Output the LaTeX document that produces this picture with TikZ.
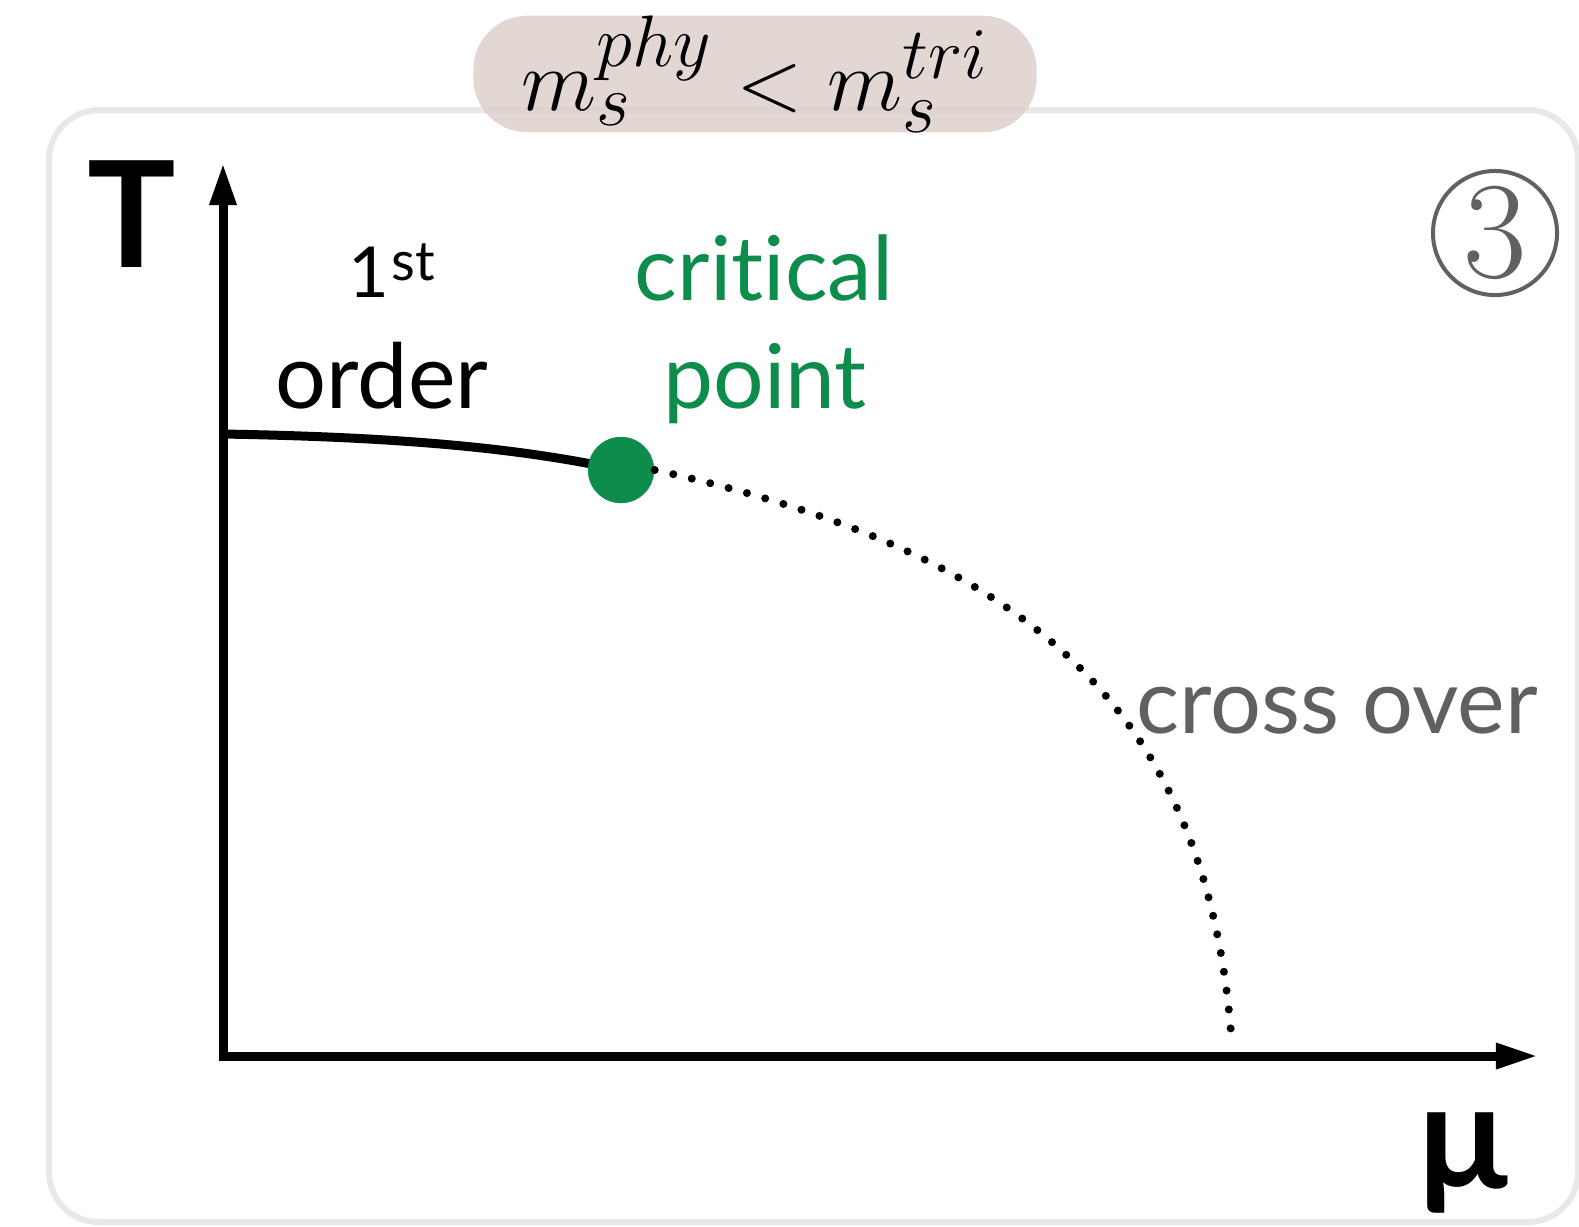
\documentclass[tikz,border=0pt]{standalone}
\usepackage{fontspec}
\setsansfont{Lato}[Ligatures=NoCommon]
\usepackage{amsmath}
\usetikzlibrary{arrows.meta, positioning}
\definecolor{cpgreen}{RGB}{14,140,76}
\definecolor{framegray}{RGB}{232,232,232}
\definecolor{pillfill}{RGB}{221,208,203}
\definecolor{labelgray}{RGB}{96,96,96}
\definecolor{ringgray}{RGB}{97,97,97}
\tikzset{
  panel/.style={draw=framegray, line width=0.06cm, rounded corners=0.5cm},
  pill/.style={rectangle, fill=pillfill, fill opacity=0.85, text opacity=1,
    minimum width=5.63cm, minimum height=1.09cm, rounded corners=0.54cm,
    inner sep=0pt, font=\fontsize{28.4}{30}\selectfont},
  axis/.style={line width=0.09cm,
    {Triangle[length=0.42cm, width=0.25cm]}-{Triangle[length=0.42cm, width=0.24cm]}},
  axislabel/.style={inner sep=0pt, font=\sffamily\bfseries\fontsize{42}{44}\selectfont},
  phaselabel/.style={inner sep=0pt, font=\sffamily\fontsize{25.6}{27}\selectfont},
  critlabel/.style={phaselabel, text=cpgreen, font=\sffamily\fontsize{25.4}{27}\selectfont},
  crosslabel/.style={phaselabel, text=labelgray},
  critdot/.style={circle, fill=cpgreen, minimum size=0.66cm, inner sep=0pt},
  firstorder/.style={line width=0.09cm, color=black},
  crossover/.style={line width=0.08cm, line cap=round, dash pattern=on 0cm off 0.19cm},
  ring/.style={circle, draw=ringgray, line width=0.04cm, minimum size=1.24cm,
    inner sep=0pt, text=ringgray, font=\fontsize{39.3}{40}\selectfont}
}

\begin{document}
\begin{tikzpicture}[x=0.01cm, y=-0.01cm]
  \useasboundingbox (0,0) rectangle (1579,1226);

  % frame and heading
  \draw[panel] (49,110) rectangle (1578,1222);
  \node[pill] (mass) at (755,74) {\raisebox{0.05cm}{$m_s^{phy} < m_s^{tri}$}};
  \node[ring] (num) at (1495,233) {3};

  % axes
  \coordinate (ytop) at (223,163);
  \coordinate (orig) at (223,1056);
  \coordinate (xend) at (1538,1056);
  \draw[axis] (ytop) -- (orig) -- (xend);
  \node[axislabel, anchor=base] (tlab) at (132,267) {T};
  \node[axislabel, anchor=base] (mulab) at (1464,1188) {µ};

  % transition line
  \coordinate (tstart) at (223,434);
  \coordinate (mend) at (1232,1046);
  \node[critdot] (cp) at (621,470) {};
  \draw[firstorder] (tstart) .. controls (400,437) and (520,448) .. (cp.center);
  \node[critdot] at (cp) {};
  \draw[crossover] (cp.east) .. controls (1030,553) and (1209,711) .. (mend);

  % labels
  \node[phaselabel, anchor=base west] (first) at (348,297)
    {\fontsize{20}{21}\selectfont 1\hspace{0.02cm}\raisebox{0.17cm}{\fontsize{15.6}{16}\selectfont st}};
  \node[phaselabel, anchor=base west] (order) at (275,408) {order};
  \node[critlabel, anchor=base] (crit) at (764,300) {critical};
  \node[critlabel, anchor=base] (point) at (765,408) {point};
  \node[crosslabel, anchor=base west] (cross) at (1136,733) {cross over};
\end{tikzpicture}
\end{document}
